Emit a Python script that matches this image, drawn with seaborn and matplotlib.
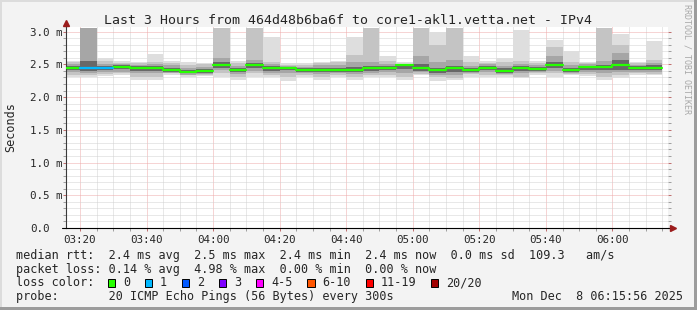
import numpy as np
import pandas as pd
import matplotlib
matplotlib.use("Agg")
import matplotlib.pyplot as plt
from matplotlib.ticker import MultipleLocator, FixedLocator
from matplotlib.patches import Rectangle
import seaborn as sns

# ---------------- data (ms) ----------------
# 5-minute intervals, start time in minutes after 03:00
starts = list(range(15, 195, 5))
median = [2.44, 2.44, 2.44, 2.465, 2.45, 2.445, 2.415, 2.385, 2.405, 2.49, 2.42, 2.485,
          2.45, 2.45, 2.42, 2.42, 2.42, 2.42, 2.44, 2.45, 2.49, 2.45, 2.41, 2.445,
          2.415, 2.45, 2.405, 2.44, 2.43, 2.485, 2.42, 2.455, 2.455, 2.485, 2.44, 2.45]
loss = [0, 1, 1, 0, 0, 0, 0, 0, 0, 0, 0, 0,
        0, 0, 0, 0, 0, 0, 0, 0, 0, 0, 0, 0,
        0, 0, 0, 0, 0, 0, 0, 0, 0, 0, 0, 0]
# smoke bands, outer (1) to inner (4)
hi1 = [2.55, 3.05, 2.60, 2.55, 2.54, 2.65, 2.55, 2.54, 2.52, 3.05, 2.55, 3.05,
       2.91, 2.515, 2.515, 2.54, 2.55, 2.91, 3.05, 2.62, 2.54, 3.05, 3.00, 3.05,
       2.62, 2.55, 2.59, 3.02, 2.55, 2.87, 2.70, 2.54, 3.05, 2.97, 2.54, 2.86]
hi2 = [2.53, 3.05, 2.55, 2.515, 2.515, 2.54, 2.525, 2.49, 2.50, 3.05, 2.515, 3.05,
       2.54, 2.49, 2.49, 2.515, 2.53, 2.64, 3.05, 2.55, 2.51, 3.05, 2.80, 3.05,
       2.54, 2.52, 2.54, 2.55, 2.52, 2.77, 2.54, 2.515, 3.05, 2.80, 2.515, 2.57]
hi3 = [2.50, 3.05, 2.50, 2.50, 2.49, 2.50, 2.49, 2.45, 2.46, 2.59, 2.48, 2.57,
       2.50, 2.47, 2.46, 2.49, 2.49, 2.54, 2.54, 2.50, 2.50, 2.62, 2.54, 2.57,
       2.48, 2.50, 2.47, 2.51, 2.49, 2.62, 2.49, 2.50, 2.55, 2.67, 2.49, 2.52]
hi4 = [2.475, 2.55, 2.47, 2.485, 2.47, 2.47, 2.44, 2.42, 2.43, 2.53, 2.45, 2.52,
       2.48, 2.465, 2.44, 2.45, 2.45, 2.46, 2.48, 2.47, 2.50, 2.50, 2.45, 2.48,
       2.44, 2.48, 2.45, 2.47, 2.46, 2.53, 2.45, 2.48, 2.49, 2.57, 2.47, 2.49]
lo4 = [2.415, 2.40, 2.41, 2.43, 2.40, 2.40, 2.38, 2.36, 2.37, 2.45, 2.39, 2.44,
       2.40, 2.41, 2.39, 2.38, 2.38, 2.39, 2.40, 2.41, 2.43, 2.40, 2.37, 2.39,
       2.38, 2.41, 2.36, 2.40, 2.40, 2.44, 2.39, 2.41, 2.41, 2.42, 2.41, 2.41]
lo3 = [2.38, 2.37, 2.38, 2.39, 2.36, 2.36, 2.36, 2.34, 2.35, 2.41, 2.35, 2.40,
       2.37, 2.36, 2.36, 2.35, 2.36, 2.35, 2.37, 2.38, 2.36, 2.38, 2.34, 2.34,
       2.36, 2.38, 2.35, 2.36, 2.38, 2.40, 2.37, 2.38, 2.37, 2.39, 2.38, 2.38]
lo2 = [2.34, 2.34, 2.35, 2.36, 2.31, 2.31, 2.36, 2.33, 2.34, 2.36, 2.31, 2.36,
       2.34, 2.30, 2.34, 2.30, 2.34, 2.31, 2.34, 2.34, 2.31, 2.35, 2.30, 2.29,
       2.35, 2.34, 2.34, 2.31, 2.36, 2.36, 2.35, 2.35, 2.30, 2.33, 2.36, 2.35]
lo1 = [2.31, 2.31, 2.32, 2.34, 2.26, 2.26, 2.33, 2.31, 2.32, 2.30, 2.26, 2.31,
       2.31, 2.25, 2.31, 2.26, 2.31, 2.26, 2.31, 2.31, 2.26, 2.34, 2.25, 2.26,
       2.31, 2.31, 2.31, 2.29, 2.34, 2.31, 2.34, 2.32, 2.26, 2.29, 2.34, 2.34]

y_ticks = [0.0, 0.5, 1.0, 1.5, 2.0, 2.5, 3.0]
y_tick_labels = ["0.0", "0.5 m", "1.0 m", "1.5 m", "2.0 m", "2.5 m", "3.0 m"]
x_ticks = [20, 40, 60, 80, 100, 120, 140, 160, 180]
x_tick_labels = ["03:20", "03:40", "04:00", "04:20", "04:40", "05:00", "05:20", "05:40", "06:00"]

loss_labels = ["0", "1", "2", "3", "4-5", "6-10", "11-19", "20/20"]
loss_colors = ["#26ff00", "#00b8ff", "#0059ff", "#7e00ff", "#ff00ff", "#ff5500", "#ff0000", "#a10000"]

title = "Last 3 Hours from 464d48b6ba6f to core1-akl1.vetta.net - IPv4"
line_rtt = "median rtt:  2.4 ms avg  2.5 ms max  2.4 ms min  2.4 ms now  0.0 ms sd  109.3   am/s"
line_loss = "packet loss: 0.14 % avg  4.98 % max  0.00 % min  0.00 % now"
line_probe = "probe:       20 ICMP Echo Pings (56 Bytes) every 300s"
stamp = "Mon Dec  8 06:15:56 2025"

# ---------------- style ----------------
sns.set_style("white")
plt.rcParams["font.family"] = ["DejaVu Sans Mono"]
plt.rcParams["font.size"] = 8.5

W, H = 697, 310
BG = "#f3f3f3"
fig = plt.figure(figsize=(W / 100, H / 100), dpi=100, facecolor=BG)


def fx(x):
    return x / W


def fy(y):
    return 1 - y / H


ax = fig.add_axes([fx(66), fy(228), 602 / W, (228 - 27) / H])
ax.set_facecolor("white")
ax.set_xlim(15.8, 196.7)
ax.set_ylim(0, 3.07)

# smoke
starts_a = np.array(starts)
levels = [(lo1, hi1, "#dedede"), (lo2, hi2, "#c4c4c4"), (lo3, hi3, "#a6a6a6"), (lo4, hi4, "#686868")]
for lo, hi, col in levels:
    lo = np.array(lo)
    hi = np.array(hi)
    ax.bar(starts_a, hi - lo, bottom=lo, width=5, align="edge", color=col,
           linewidth=0, antialiased=False, zorder=2)

# median line coloured by loss
rows = []
for i, (s, m, l) in enumerate(zip(starts, median, loss)):
    rows.append({"t": s, "rtt": m, "loss": loss_labels[l], "bar": i})
    rows.append({"t": s + 5, "rtt": m, "loss": loss_labels[l], "bar": i})
df = pd.DataFrame(rows)
pal = dict(zip(loss_labels, loss_colors))
sns.lineplot(data=df, x="t", y="rtt", hue="loss", units="bar", estimator=None,
             palette=pal, linewidth=1.6, legend=False, ax=ax, zorder=4)

# grid
ax.yaxis.set_major_locator(FixedLocator(y_ticks))
ax.yaxis.set_minor_locator(MultipleLocator(0.1))
ax.xaxis.set_major_locator(FixedLocator(x_ticks))
ax.xaxis.set_minor_locator(MultipleLocator(5))
ax.set_yticklabels(y_tick_labels)
ax.set_xticklabels(x_tick_labels)
ax.set_axisbelow(True)
dot = (0, (1, 1))
ax.grid(which="minor", color="#d2d2d2", linestyle=dot, linewidth=0.72)
ax.grid(which="major", color="#eeaaaa", linestyle=dot, linewidth=0.72)

ax.tick_params(axis="y", which="major", direction="out", length=2, width=0.72,
               color="#c07070", pad=24, left=True, right=True, labelsize=7.8)
ax.tick_params(axis="y", which="minor", direction="out", length=2, width=0.72,
               color="#a0a0a0", left=True, right=True)
ax.tick_params(axis="x", which="major", direction="out", length=2, width=0.72,
               color="#c07070", pad=3.0, bottom=True, labelsize=7.8)
ax.tick_params(axis="x", which="minor", direction="out", length=2, width=0.72,
               color="#a0a0a0", bottom=True)
for lab in ax.get_yticklabels():
    lab.set_horizontalalignment("left")
ax.set_xlabel("")
ax.set_ylabel("")

for s in ["top", "right"]:
    ax.spines[s].set_visible(False)
ax.spines["left"].set_color("#3a3a3a")
ax.spines["left"].set_linewidth(0.8)
ax.spines["bottom"].set_color("#000000")
ax.spines["bottom"].set_linewidth(0.8)

# axis extensions and arrows
ax.plot([1.0, 1.0 + 4 / 602], [0, 0], transform=ax.transAxes, color="black",
        lw=0.8, clip_on=False, zorder=5)
ax.plot([-4 / 602, 0], [0, 0], transform=ax.transAxes, color="black",
        lw=0.8, clip_on=False, zorder=5)
ax.plot([0, 0], [1.0, 1.0 + 3 / 201], transform=ax.transAxes, color="#3a3a3a",
        lw=0.8, clip_on=False, zorder=5)
ax.plot([1.0 + 5 / 602], [0], marker=">", ms=4.2, color="#9b1c1c", mec="#9b1c1c",
        transform=ax.transAxes, clip_on=False, zorder=6)
ax.plot([0], [1.0 + 4 / 201], marker="^", ms=4.2, color="#9b1c1c", mec="#9b1c1c",
        transform=ax.transAxes, clip_on=False, zorder=6)

# texts
fig.text(fx(347.5), fy(24), title, ha="center", va="baseline", fontsize=9.5)
fig.text(fx(10.5), fy(127), "Seconds", rotation=90, ha="center", va="center", fontsize=8.5)
fig.text(fx(687.5), fy(59), "RRDTOOL / TOBI OETIKER", rotation=-90, ha="center",
         va="center", fontsize=6, color="#a8a8a8")
fig.text(fx(16), fy(259), line_rtt, ha="left", va="baseline", fontsize=8.5)
fig.text(fx(16), fy(272.7), line_loss, ha="left", va="baseline", fontsize=8.5)
fig.text(fx(16), fy(286.3), "loss color:", ha="left", va="baseline", fontsize=8.5)
fig.text(fx(16), fy(300), line_probe, ha="left", va="baseline", fontsize=8.5)
fig.text(fx(512.5), fy(300), stamp, ha="left", va="baseline", fontsize=8.5)

x = 108.0
for lab, col in zip(loss_labels, loss_colors):
    fig.patches.append(Rectangle((fx(x), fy(286.5)), 7.3 / W, 7.3 / H, transform=fig.transFigure,
                                 facecolor=col, edgecolor="black", linewidth=0.7))
    fig.text(fx(x + 15), fy(286.3), lab, ha="left", va="baseline", fontsize=8.5)
    x += 37 + 7.1 * (len(lab) - 1)

# 3D frame
fig.patches.append(Rectangle((0, fy(2)), 1, 2 / H, transform=fig.transFigure,
                             facecolor="#dcdcdc", edgecolor="none"))
fig.patches.append(Rectangle((0, 0), 2 / W, 1, transform=fig.transFigure,
                             facecolor="#dcdcdc", edgecolor="none"))
fig.patches.append(Rectangle((0, 0), 1, 3 / H, transform=fig.transFigure,
                             facecolor="#9c9c9c", edgecolor="none"))
fig.patches.append(Rectangle((fx(694), 0), 3 / W, 1, transform=fig.transFigure,
                             facecolor="#9c9c9c", edgecolor="none"))

fig.savefig("out.png", dpi=100, facecolor=BG)
